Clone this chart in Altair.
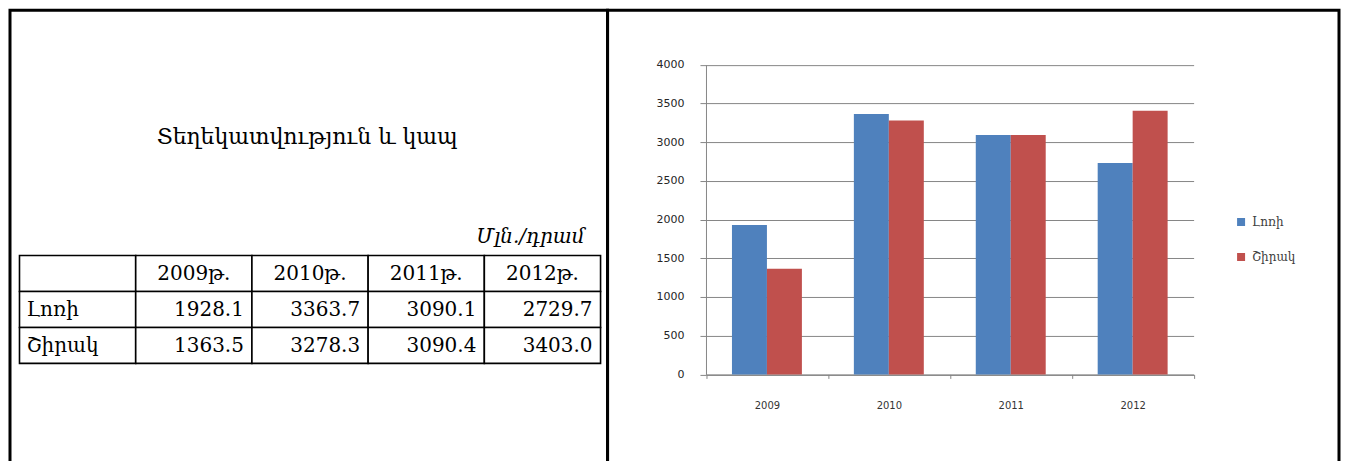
import altair as alt
import pandas as pd

# ---------------- data ----------------
years = ["2009", "2010", "2011", "2012"]
year_headers = ["2009թ.", "2010թ.", "2011թ.", "2012թ."]
regions = ["Լոռի", "Շիրակ"]
lori = [1928.1, 3363.7, 3090.1, 2729.7]
shirak = [1363.5, 3278.3, 3090.4, 3403.0]
y_ticks = [0, 500, 1000, 1500, 2000, 2500, 3000, 3500, 4000]
colors = ["#4F81BD", "#C0504D"]
title_text = "Տեղեկատվություն և կապ"
unit_text = "Մլն./դրամ"

series = {regions[0]: lori, regions[1]: shirak}

bars_df = pd.DataFrame(
    [{"year": y, "region": r, "value": series[r][i]} for r in regions for i, y in enumerate(years)]
)

col_keys = ["label"] + year_headers
row_keys = ["head"] + regions
cells = []
for c in col_keys:
    cells.append({"row": "head", "col": c, "text": "" if c == "label" else c, "kind": "head"})
for r in regions:
    cells.append({"row": r, "col": "label", "text": r, "kind": "name"})
    for i, h in enumerate(year_headers):
        cells.append({"row": r, "col": h, "text": f"{series[r][i]:.1f}", "kind": "num"})
cells_df = pd.DataFrame(cells)

SERIF = "DejaVu Serif"
SANS = "DejaVu Sans"
W_L, W_R, H = 598, 732, 460

# ---------------- left panel: caption + table ----------------
xscale = alt.Scale(domain=col_keys, range=[9.5, 591], paddingInner=0, paddingOuter=0)
yscale = alt.Scale(domain=row_keys, range=[245.5, 353.5], paddingInner=0, paddingOuter=0)

def xenc(bp=None):
    if bp is None:
        return alt.X("col:N", scale=xscale, axis=None)
    return alt.X("col:N", scale=xscale, axis=None, bandPosition=bp)

yenc = alt.Y("row:N", scale=yscale, axis=None)

base = alt.Chart(cells_df)
rects = base.mark_rect(fill="white", stroke="black", strokeWidth=1.6).encode(x=xenc(), y=yenc)
head_txt = base.transform_filter("datum.kind == 'head'").mark_text(
    font=SERIF, fontSize=20, baseline="alphabetic", dy=7, color="black"
).encode(x=xenc(), y=yenc, text="text:N")
name_txt = base.transform_filter("datum.kind == 'name'").mark_text(
    font=SERIF, fontSize=20, baseline="alphabetic", dy=7, align="left", dx=7, color="black"
).encode(x=xenc(0), y=yenc, text="text:N")
num_txt = base.transform_filter("datum.kind == 'num'").mark_text(
    font=SERIF, fontSize=20, baseline="alphabetic", dy=7, align="right", dx=-8, color="black"
).encode(x=xenc(1), y=yenc, text="text:N")

title_mark = alt.Chart(pd.DataFrame({"t": [title_text]})).mark_text(
    font=SERIF, fontSize=22, baseline="alphabetic", align="center", color="black"
).encode(text="t:N", x=alt.value(297.5), y=alt.value(134))
unit_mark = alt.Chart(pd.DataFrame({"t": [unit_text]})).mark_text(
    font=SERIF, fontSize=20, fontStyle="italic", baseline="alphabetic", align="right", color="black"
).encode(text="t:N", x=alt.value(575), y=alt.value(233))

left = alt.layer(rects, head_txt, name_txt, num_txt, title_mark, unit_mark).properties(
    width=W_L, height=H
)

# ---------------- right panel: bar chart ----------------
xb = alt.X(
    "year:N",
    scale=alt.Scale(domain=years, range=[98.5, 586.5], paddingInner=0, paddingOuter=0),
    axis=alt.Axis(
        title=None, orient="bottom", offset=-95.5, tickBand="extent", tickSize=4,
        labelPadding=22, labelAngle=0, labelFont=SANS, labelFontSize=10, labelColor="#333333",
        domainColor="#868686", tickColor="#868686", grid=False,
    ),
)
yb = alt.Y(
    "value:Q",
    scale=alt.Scale(domain=[0, 4000], range=[364.5, 54.5], nice=False, zero=True),
    axis=alt.Axis(
        title=None, values=y_ticks, format="d", offset=-98.5, tickSize=6, labelPadding=16,
        labelFont=SANS, labelFontSize=11, labelColor="#262626",
        domainColor="#868686", tickColor="#868686", grid=True, gridColor="#868686",
    ),
)
bars = alt.Chart(bars_df).mark_bar().encode(
    x=xb,
    xOffset=alt.XOffset("region:N", scale=alt.Scale(domain=regions, paddingInner=0, paddingOuter=0.743)),
    y=yb,
    color=alt.Color(
        "region:N",
        scale=alt.Scale(domain=regions, range=colors),
        legend=alt.Legend(
            title=None, orient="none", legendX=1226, legendY=206, symbolType="square",
            symbolSize=64, symbolStrokeWidth=0, labelFont=SERIF, labelFontSize=12,
            labelColor="#404040", rowPadding=23, labelOffset=5, padding=0,
        ),
    ),
)
right = bars.properties(width=W_R, height=H)

chart = (
    alt.hconcat(left, right, spacing=0, bounds="flush")
    .properties(padding=0, background="white")
    .configure_view(stroke="black", strokeWidth=3)
)

chart.save("out.html", embed_options={"renderer": "svg", "actions": False})
